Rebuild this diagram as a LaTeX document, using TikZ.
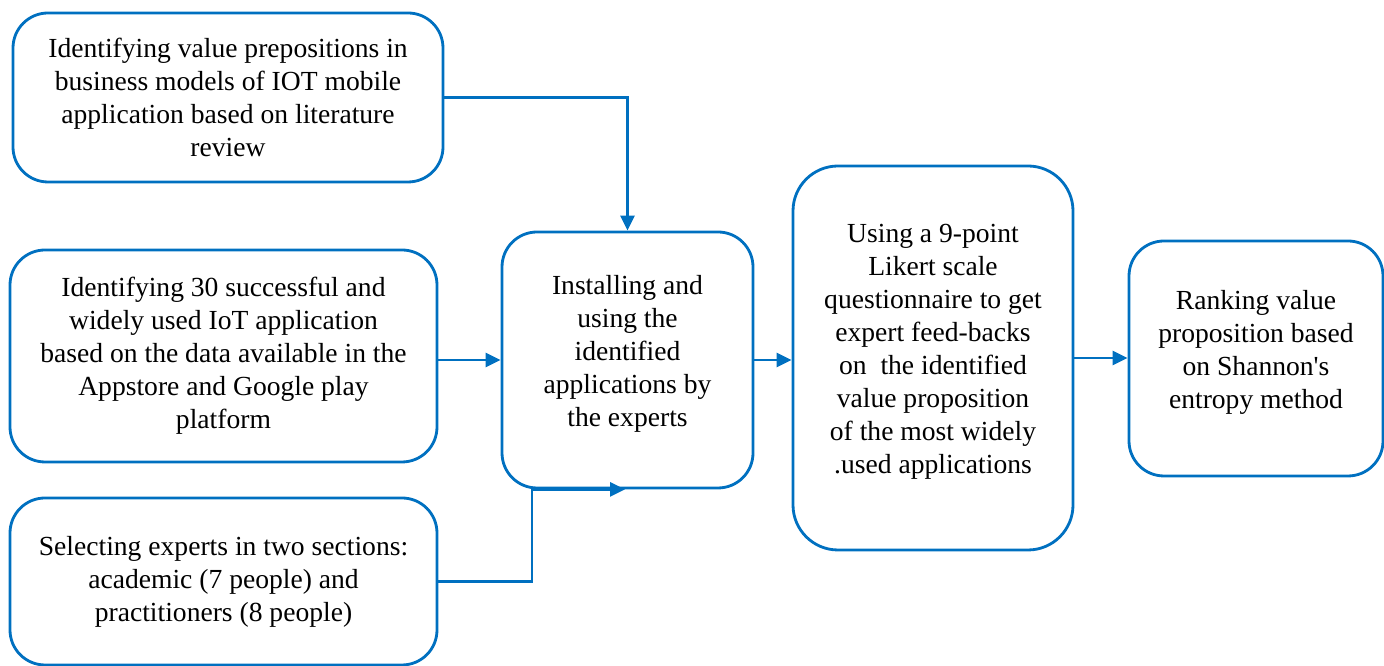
\documentclass[tikz,border=0pt]{standalone}
\usepackage{fontspec}
\setmainfont{Liberation Serif}
\usetikzlibrary{arrows.meta, positioning}
\definecolor{flowblue}{HTML}{0070C0}

\begin{document}
\begin{tikzpicture}[
  stage/.style={draw=flowblue, line width=1.6pt, rounded corners=0.7cm,
                align=center, inner sep=2pt,
                font=\fontsize{15.7}{18.8}\selectfont},
  arr/.style={-{Triangle[length=0.3cm, width=0.28cm]}, line width=1.6pt, flowblue}
]
\useasboundingbox (0,0) rectangle (27.68,13.32);
% ----- left column: inputs -----
\node[stage, minimum width=8.6cm, minimum height=3.38cm] (litrev) at (4.56,11.37)
     {Identifying value prepositions in\\business models of IOT mobile\\application based on literature\\review};
\node[stage, minimum width=8.54cm, minimum height=4.24cm] (apps) at (4.47,6.2)
     {Identifying 30 successful and\\widely used IoT application\\based on the data available in the\\Appstore and Google play\\platform};
\node[stage, minimum width=8.54cm, minimum height=3.34cm] (experts) at (4.47,1.69)
     {Selecting experts in two sections:\\academic (7 people) and\\practitioners (8 people)};
% ----- middle: install and survey -----
\node[stage, minimum width=5.02cm, minimum height=5.12cm] (install) at (12.55,6.12)
     {Installing and\\using the\\identified\\applications by\\the experts\\[-8.6pt]};
\node[stage, rounded corners=0.9cm, minimum width=5.6cm, minimum height=7.68cm] (survey) at (18.66,6.16)
     {Using a 9-point\\Likert scale\\questionnaire to get\\expert feed-backs\\on~ the identified\\value proposition\\of the most widely\\.used applications\\[-8.6pt]};
% ----- right: ranking -----
\node[stage, minimum width=5.08cm, minimum height=4.7cm] (rank) at (25.12,6.15)
     {Ranking value\\proposition based\\on Shannon\textquotesingle s\\entropy method\\[-8.6pt]};
% ----- connectors -----
\draw[arr] (litrev.east) -| (install.north);
\draw[arr] (apps.east |- install.west) -- (install.west);
\draw[arr] (experts.east) -| ([xshift=-1.91cm]install.south) -- ([xshift=-0.05cm]install.south);
\draw[arr] (install.east) -- (survey.west |- install.east);
\draw[arr] (survey.east) -- (rank.west |- survey.east);
\end{tikzpicture}
\end{document}
